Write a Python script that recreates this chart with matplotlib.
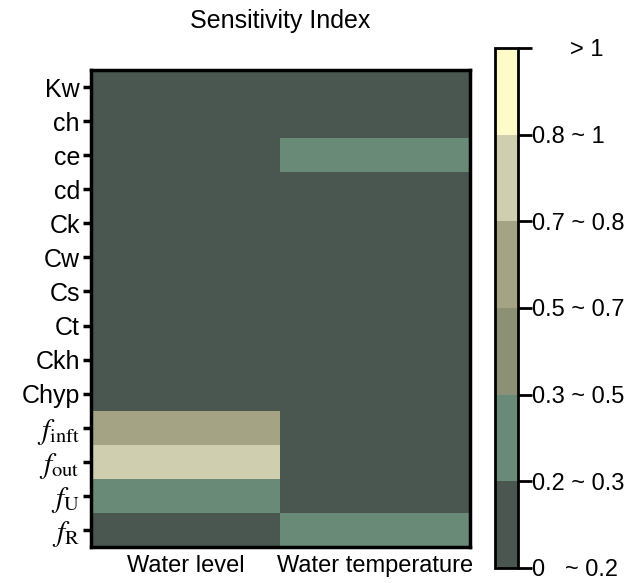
import numpy as np
import matplotlib
matplotlib.use("Agg")
import matplotlib.pyplot as plt
from matplotlib.colors import ListedColormap, BoundaryNorm

plt.rcParams['font.family'] = ['Liberation Sans', 'DejaVu Sans']
plt.rcParams['mathtext.fontset'] = 'stix'

params = ['Kw', 'ch', 'ce', 'cd', 'Ck', 'Cw', 'Cs', 'Ct', 'Ckh', 'Chyp',
          r'$f_{\mathrm{inft}}$', r'$f_{\mathrm{out}}$', r'$f_{\mathrm{U}}$', r'$f_{\mathrm{R}}$']
outputs = ['Water level', 'Water temperature']

# sensitivity class per parameter (0: 0~0.2, 1: 0.2~0.3, 2: 0.3~0.5, 3: 0.5~0.7, 4: 0.7~0.8, 5: 0.8~1, 6: >1)
water_level = [0, 0, 0, 0, 0, 0, 0, 0, 0, 0, 3, 4, 1, 0]
water_temp = [0, 0, 1, 0, 0, 0, 0, 0, 0, 0, 0, 0, 0, 1]

class_labels = ['0   ~ 0.2', '0.2 ~ 0.3', '0.3 ~ 0.5', '0.5 ~ 0.7', '0.7 ~ 0.8', '0.8 ~ 1', '> 1']
class_colors = ['#4a5750', '#6a8a78', '#8c9074', '#a4a484', '#cfcfb0', '#fffbc8']

data = np.column_stack([water_level, water_temp]).astype(float)
cmap = ListedColormap(class_colors)
norm = BoundaryNorm(np.arange(0, len(class_colors) + 1), cmap.N)

fig = plt.figure(figsize=(6.35, 5.83), dpi=100)
ax = fig.add_axes([91 / 635, 1 - 547 / 583, 379 / 635, 477 / 583])
cax = fig.add_axes([495 / 635, 1 - 568 / 583, 23 / 635, 520 / 583])

im = ax.imshow(data + 0.5, cmap=cmap, norm=norm, aspect='auto', interpolation='nearest')
ax.set_yticks(range(len(params)))
ax.set_yticklabels(params, fontsize=18)
for lab in ax.get_yticklabels():
    if lab.get_text().startswith('$'):
        lab.set_fontsize(21)
ax.set_xticks(range(len(outputs)))
ax.set_xticklabels(outputs, fontsize=17)
ax.tick_params(axis='y', length=6, width=2.5, pad=2)
ax.tick_params(axis='x', length=0, pad=6)
for s in ax.spines.values():
    s.set_linewidth(2.5)
ax.set_title('Sensitivity Index', fontsize=18, pad=30)

cb = fig.colorbar(im, cax=cax, ticks=np.arange(0, len(class_colors) + 1))
cb.ax.set_yticklabels(class_labels, fontsize=17)
cb.ax.tick_params(length=10, width=2, pad=0)
cb.outline.set_linewidth(2)
# top label sits a bit to the right in the original
top = cb.ax.get_yticklabels()[-1]
top.set_transform(top.get_transform() + matplotlib.transforms.ScaledTranslation(0.38, 0.0, fig.dpi_scale_trans))

fig.savefig('out.png', dpi=100)
